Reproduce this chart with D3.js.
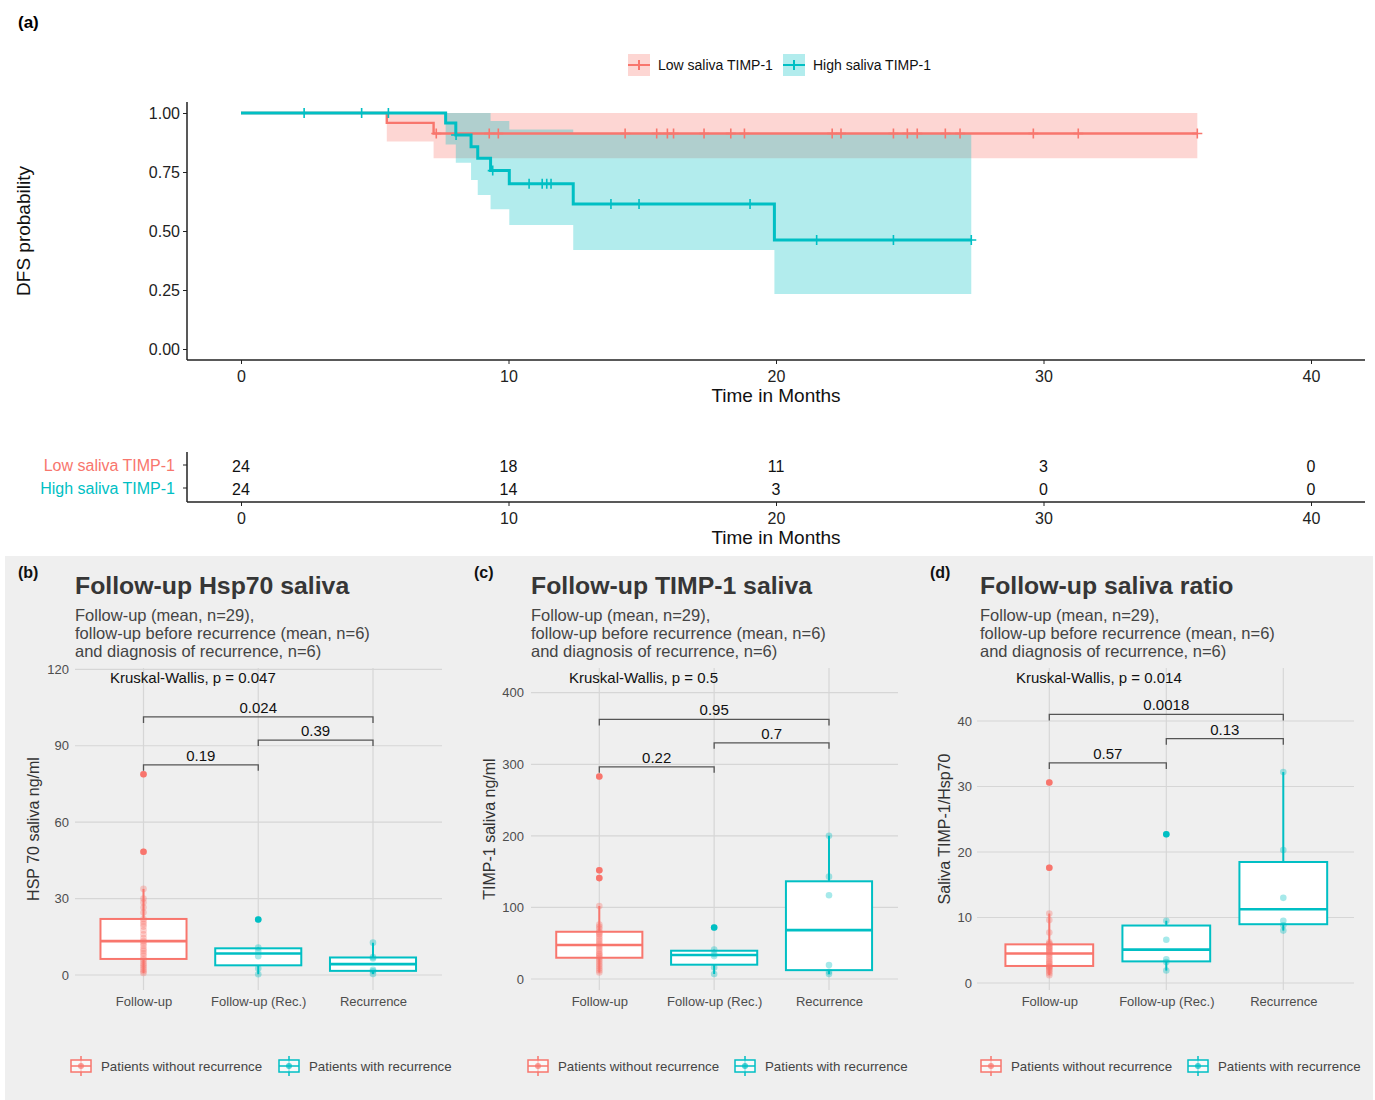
<!DOCTYPE html>
<html><head><meta charset="utf-8">
<script src="https://cdn.jsdelivr.net/npm/d3@7"></script>
<style>body{margin:0;background:#fff} svg{display:block} text{font-family:"Liberation Sans",Arial,sans-serif}</style>
</head><body><svg id="c" width="1375" height="1100"></svg>
<script>
const RED = "#F8766D", TEAL = "#00BFC4";

// ---------- (a) Kaplan-Meier data ----------
const monthTicks = [0, 10, 20, 30, 40];
const probTicks = [0, 0.25, 0.5, 0.75, 1];
const groupNames = ["Low saliva TIMP-1", "High saliva TIMP-1"];
const lowTimes = [0, 5.45, 7.2];
const lowSurv = [1, 0.958, 0.913];
const lowLower = [1, 0.879, 0.808];
const lowUpper = [1, 1, 1];
const lowEnd = 35.75;
const lowCensor = [7.3, 9.28, 9.62, 14.36, 15.54, 15.94, 16.17, 17.31, 18.31, 18.82, 22.1, 22.43, 24.39, 24.91, 25.28, 26.33, 26.88, 29.62, 31.3, 35.75];
const highTimes = [0, 7.65, 8.03, 8.6, 8.85, 9.33, 10.03, 12.42, 19.94];
const highSurv = [1, 0.958, 0.907, 0.857, 0.808, 0.756, 0.70, 0.614, 0.462];
const highLower = [1, 0.867, 0.789, 0.716, 0.653, 0.592, 0.525, 0.419, 0.233];
const highUpper = [1, 1, 1, 1, 1, 0.966, 0.93, 0.915, 0.912];
const highEnd = 27.3;
const highCensor = [2.36, 4.51, 5.51, 8.04, 9.41, 10.77, 11.26, 11.43, 11.59, 13.83, 14.88, 19.03, 21.52, 24.39, 27.3];
const riskLow = [24, 18, 11, 3, 0];
const riskHigh = [24, 14, 3, 0, 0];

// ---------- (b)-(d) boxplot data ----------
const categories = ["Follow-up", "Follow-up (Rec.)", "Recurrence"];
const hspFollow = [0.8, 1.5, 2.2, 3.0, 3.8, 4.5, 5.5, 6.3, 7.5, 8.5, 9.5, 10.3, 11.5, 12.5, 13.3, 14.5, 16.0, 17.5, 19.0, 20.0, 21.0, 22.0, 24.5, 26.5, 28.5, 30.0, 33.8, 48.4, 78.8];
const hspFollowRec = [0.3, 2.6, 7.4, 9.5, 10.8, 21.8];
const hspRec = [0.4, 1.5, 2.0, 6.5, 7.0, 12.7];
const timpFollow = [9, 12, 15, 18, 21, 24, 27, 29.7, 32, 34, 36, 39, 42, 45, 47.5, 50, 53, 56, 59, 62, 64, 66, 70, 73, 76, 102, 141, 152, 283];
const timpFollowRec = [7, 16, 32, 35, 41, 72];
const timpRec = [7, 10, 19.5, 117, 143, 200];
const ratioFollow = [1.2, 1.5, 1.8, 2.0, 2.2, 2.4, 2.5, 2.6, 2.9, 3.1, 3.3, 3.6, 3.9, 4.2, 4.5, 4.7, 4.9, 5.1, 5.3, 5.5, 5.6, 5.9, 6.0, 6.2, 7.7, 9.6, 10.6, 17.6, 30.6];
const ratioFollowRec = [1.9, 3.2, 3.6, 6.6, 9.5, 22.7];
const ratioRec = [8.0, 8.8, 9.5, 13.0, 20.3, 32.2];
const hspTicks = [0, 30, 60, 90, 120];
const timpTicks = [0, 100, 200, 300, 400];
const ratioTicks = [0, 10, 20, 30, 40];
const pairs = [[0, 1], [1, 2], [0, 2]];
const hspP = ["0.19", "0.39", "0.024"];
const timpP = ["0.22", "0.7", "0.95"];
const ratioP = ["0.57", "0.13", "0.0018"];
const kwP = ["0.047", "0.5", "0.014"];
const titles = ["Follow-up Hsp70 saliva", "Follow-up TIMP-1 saliva", "Follow-up saliva ratio"];
const subtitle = ["Follow-up (mean, n=29),", "follow-up before recurrence (mean, n=6)", "and diagnosis of recurrence, n=6)"];
const yTitles = ["HSP 70 saliva ng/ml", "TIMP-1 saliva ng/ml", "Saliva TIMP-1/Hsp70"];
const legendLabels = ["Patients without recurrence", "Patients with recurrence"];

const svg = d3.select("#c");
svg.append("rect").attr("width", 1375).attr("height", 1100).attr("fill", "#fff");

// ================= (a) =================
const x = d3.scaleLinear().domain([0, 40]).range([241, 1311]);
const y = d3.scaleLinear().domain([0, 1]).range([349, 113]);

svg.append("text").text("(a)").attr("x", 18).attr("y", 28).attr("font-size", 17).attr("font-weight", "bold");

function bandData(times, lo, hi, end) {
  const d = times.map((t, i) => ({t, lo: lo[i], hi: hi[i]}));
  d.push({t: end, lo: lo[lo.length - 1], hi: hi[hi.length - 1]});
  return d;
}
const area = d3.area().curve(d3.curveStepAfter).x(d => x(d.t)).y0(d => y(d.lo)).y1(d => y(d.hi));
svg.append("path").attr("d", area(bandData(lowTimes, lowLower, lowUpper, lowEnd))).attr("fill", RED).attr("fill-opacity", 0.3);
svg.append("path").attr("d", area(bandData(highTimes, highLower, highUpper, highEnd))).attr("fill", TEAL).attr("fill-opacity", 0.3);

const line = d3.line().curve(d3.curveStepAfter).x(d => x(d.t)).y(d => y(d.s));
function lineData(times, surv, end) {
  const d = times.map((t, i) => ({t, s: surv[i]}));
  d.push({t: end, s: surv[surv.length - 1]});
  return d;
}
function survAt(times, surv, t) {
  let s = surv[0];
  times.forEach((tt, i) => { if (tt <= t) s = surv[i]; });
  return s;
}
function drawCurve(times, surv, end, censor, color, w) {
  svg.append("path").attr("d", line(lineData(times, surv, end))).attr("fill", "none").attr("stroke", color).attr("stroke-width", w);
  censor.forEach(t => {
    const cx = x(t), cy = y(survAt(times, surv, t));
    svg.append("path").attr("d", `M${cx},${cy - 5}V${cy + 5}M${cx - 5},${cy}H${cx + 5}`).attr("stroke", color).attr("stroke-width", 1.6);
  });
}
drawCurve(lowTimes, lowSurv, lowEnd, lowCensor, RED, 2.4);
drawCurve(highTimes, highSurv, highEnd, highCensor, TEAL, 3);

// axes
const gy = svg.append("g").attr("transform", "translate(187,0)")
  .call(d3.axisLeft(y).tickValues(probTicks).tickFormat(d3.format(".2f")).tickSize(4).tickSizeOuter(0));
gy.select(".domain").remove();
gy.append("line").attr("y1", 102).attr("y2", 360).attr("stroke", "#222").attr("stroke-width", 1.5);
gy.selectAll(".tick text").attr("font-size", 16).attr("fill", "#222").attr("font-family", "Liberation Sans, Arial");
gy.selectAll(".tick line").attr("stroke", "#222");
const gx = svg.append("g").attr("transform", "translate(0,360)")
  .call(d3.axisBottom(x).tickValues(monthTicks).tickSize(4).tickSizeOuter(0));
gx.select(".domain").remove();
gx.append("line").attr("x1", 187).attr("x2", 1365).attr("stroke", "#222").attr("stroke-width", 1.5);
gx.selectAll(".tick text").attr("font-size", 16).attr("fill", "#222").attr("dy", "0.95em").attr("font-family", "Liberation Sans, Arial");
gx.selectAll(".tick line").attr("stroke", "#222");
svg.append("text").text("Time in Months").attr("x", 776).attr("y", 402).attr("text-anchor", "middle").attr("font-size", 19).attr("fill", "#111");
svg.append("text").text("DFS probability").attr("transform", "translate(30,231) rotate(-90)").attr("text-anchor", "middle").attr("font-size", 19).attr("fill", "#111");

// top legend
[[RED, 628, groupNames[0]], [TEAL, 783, groupNames[1]]].forEach(([c, lx, lab]) => {
  svg.append("rect").attr("x", lx).attr("y", 54).attr("width", 22).attr("height", 22).attr("fill", c).attr("fill-opacity", 0.3);
  svg.append("path").attr("d", `M${lx},65H${lx + 22}M${lx + 11},60V70`).attr("stroke", c).attr("stroke-width", 2);
  svg.append("text").text(lab).attr("x", lx + 30).attr("y", 65).attr("dominant-baseline", "central").attr("font-size", 14).attr("fill", "#111");
});

// risk table
const rx = svg.append("g").attr("transform", "translate(0,502)")
  .call(d3.axisBottom(x).tickValues(monthTicks).tickSize(4).tickSizeOuter(0));
rx.select(".domain").remove();
rx.append("line").attr("x1", 187).attr("x2", 1365).attr("stroke", "#222").attr("stroke-width", 1.5);
rx.selectAll(".tick text").attr("font-size", 16).attr("fill", "#222").attr("dy", "0.95em").attr("font-family", "Liberation Sans, Arial");
rx.selectAll(".tick line").attr("stroke", "#222");
svg.append("line").attr("x1", 187).attr("x2", 187).attr("y1", 452).attr("y2", 502).attr("stroke", "#222").attr("stroke-width", 1.5);
svg.append("text").text("Time in Months").attr("x", 776).attr("y", 544).attr("text-anchor", "middle").attr("font-size", 19).attr("fill", "#111");
[[riskLow, 465, RED, groupNames[0]], [riskHigh, 488, TEAL, groupNames[1]]].forEach(([vals, ry, c, lab]) => {
  svg.append("line").attr("x1", 183).attr("x2", 187).attr("y1", ry).attr("y2", ry).attr("stroke", "#222");
  svg.append("text").text(lab).attr("x", 175).attr("y", ry).attr("text-anchor", "end").attr("dominant-baseline", "central").attr("font-size", 16).attr("fill", c);
  vals.forEach((v, i) => svg.append("text").text(v).attr("x", x(monthTicks[i])).attr("y", ry + 1).attr("text-anchor", "middle").attr("dominant-baseline", "central").attr("font-size", 16).attr("fill", "#111"));
});

// ================= (b)-(d) =================
svg.append("rect").attr("x", 5).attr("y", 556).attr("width", 1368).attr("height", 544).attr("fill", "#efefef");

const panels = [
  {tag: "(b)", tagX: 18, left: 75, right: 442, c0: 143.5, c1: 373, dom: [0, 120], rng: [975, 669.3], ticks: hspTicks,
   data: [hspFollow, hspFollowRec, hspRec], p: hspP, br: [82.5, 92.2, 101.3], ylabX: 39, tickX: 68, kwX: 110, legX: 70, legX2: 278},
  {tag: "(c)", tagX: 474, left: 531, right: 898, c0: 599.3, c1: 829, dom: [0, 400], rng: [979, 692.7], ticks: timpTicks,
   data: [timpFollow, timpFollowRec, timpRec], p: timpP, br: [296.5, 330, 362.7], ylabX: 495, tickX: 523, kwX: 569, legX: 527, legX2: 734},
  {tag: "(d)", tagX: 930, left: 977, right: 1354, c0: 1049.3, c1: 1283.3, dom: [0, 40], rng: [983, 721], ticks: ratioTicks,
   data: [ratioFollow, ratioFollowRec, ratioRec], p: ratioP, br: [33.6, 37.3, 41.0], ylabX: 950, tickX: 971, kwX: 1016, legX: 980, legX2: 1187}
];
const TOP = 668, BOT = 990;

panels.forEach((P, pi) => {
  const g = svg.append("g");
  const xs = d3.scalePoint().domain(categories).range([P.c0, P.c1]);
  const ys = d3.scaleLinear().domain(P.dom).range(P.rng);
  const step = xs.step();
  const titleX = P.left + (pi === 2 ? 3 : 0);
  g.append("text").text(P.tag).attr("x", P.tagX).attr("y", 578).attr("font-size", 16).attr("font-weight", "bold").attr("fill", "#111");
  g.append("text").text(titles[pi]).attr("x", titleX).attr("y", 594).attr("font-size", 24.8).attr("font-weight", "bold").attr("fill", "#363636");
  subtitle.forEach((s, i) => g.append("text").text(s).attr("x", titleX).attr("y", 621 + i * 18).attr("font-size", 16.5).attr("fill", "#444"));

  // grid
  P.ticks.forEach(t => g.append("line").attr("x1", P.left).attr("x2", P.right).attr("y1", ys(t)).attr("y2", ys(t)).attr("stroke", "#d6d6d6").attr("stroke-width", 1.2));
  categories.forEach(c => g.append("line").attr("x1", xs(c)).attr("x2", xs(c)).attr("y1", TOP).attr("y2", BOT).attr("stroke", "#d6d6d6").attr("stroke-width", 1.2));

  // axes labels
  const ya = g.append("g").attr("transform", `translate(${P.tickX + 4},0)`).call(d3.axisLeft(ys).tickValues(P.ticks).tickSize(0));
  ya.select(".domain").remove();
  ya.selectAll(".tick text").attr("font-size", 13).attr("fill", "#4d4d4d").attr("font-family", "Liberation Sans, Arial");
  const xa = g.append("g").attr("transform", `translate(0,${BOT + 4})`).call(d3.axisBottom(xs).tickSize(0));
  xa.select(".domain").remove();
  xa.selectAll(".tick text").attr("font-size", 13).attr("fill", "#4d4d4d").attr("font-family", "Liberation Sans, Arial");
  g.append("text").text(yTitles[pi]).attr("transform", `translate(${P.ylabX},${(TOP + BOT) / 2}) rotate(-90)`).attr("text-anchor", "middle").attr("font-size", 16).attr("fill", "#333");

  // boxes
  P.data.forEach((vals, ci) => {
    const col = ci === 0 ? RED : TEAL;
    const cx = xs(categories[ci]);
    const s = vals.slice().sort(d3.ascending);
    const q1 = d3.quantile(s, 0.25), med = d3.quantile(s, 0.5), q3 = d3.quantile(s, 0.75);
    const iqr = q3 - q1;
    const lo = d3.min(s.filter(v => v >= q1 - 1.5 * iqr)), hi = d3.max(s.filter(v => v <= q3 + 1.5 * iqr));
    const out = s.filter(v => v < q1 - 1.5 * iqr || v > q3 + 1.5 * iqr);
    const bw = step * 0.75;
    g.append("line").attr("x1", cx).attr("x2", cx).attr("y1", ys(q3)).attr("y2", ys(hi)).attr("stroke", col).attr("stroke-width", 2);
    g.append("line").attr("x1", cx).attr("x2", cx).attr("y1", ys(q1)).attr("y2", ys(lo)).attr("stroke", col).attr("stroke-width", 2);
    g.append("rect").attr("x", cx - bw / 2).attr("y", ys(q3)).attr("width", bw).attr("height", ys(q1) - ys(q3))
      .attr("fill", "#fff").attr("stroke", col).attr("stroke-width", 2);
    g.append("line").attr("x1", cx - bw / 2).attr("x2", cx + bw / 2).attr("y1", ys(med)).attr("y2", ys(med)).attr("stroke", col).attr("stroke-width", 2.6);
    out.forEach(v => g.append("circle").attr("cx", cx).attr("cy", ys(v)).attr("r", 3.3).attr("fill", col));
    s.forEach(v => g.append("circle").attr("cx", cx).attr("cy", ys(v)).attr("r", 3.3).attr("fill", col).attr("fill-opacity", 0.35));
  });

  // brackets
  pairs.forEach((pr, i) => {
    const x1 = xs(categories[pr[0]]), x2 = xs(categories[pr[1]]), by = ys(P.br[i]);
    g.append("path").attr("d", `M${x1},${by + 6}V${by}H${x2}V${by + 6}`).attr("fill", "none").attr("stroke", "#555").attr("stroke-width", 1.3);
    g.append("text").text(P.p[i]).attr("x", (x1 + x2) / 2).attr("y", by - 4).attr("text-anchor", "middle").attr("font-size", 15).attr("fill", "#111");
  });
  g.append("text").text(`Kruskal-Wallis, p = ${kwP[pi]}`).attr("x", P.kwX).attr("y", 683).attr("font-size", 15).attr("fill", "#111");

  // legend
  [[RED, P.legX, legendLabels[0]], [TEAL, P.legX2, legendLabels[1]]].forEach(([c, lx, lab]) => {
    const cx = lx + 11, cy = 1066;
    g.append("line").attr("x1", cx).attr("x2", cx).attr("y1", cy - 10).attr("y2", cy + 10).attr("stroke", c).attr("stroke-width", 1.5);
    g.append("rect").attr("x", lx + 1).attr("y", cy - 6).attr("width", 20).attr("height", 12).attr("fill", "#fff").attr("fill-opacity", 0.6).attr("stroke", c).attr("stroke-width", 1.5);
    g.append("line").attr("x1", lx + 1).attr("x2", lx + 21).attr("y1", cy).attr("y2", cy).attr("stroke", c).attr("stroke-width", 1.5);
    g.append("circle").attr("cx", cx).attr("cy", cy).attr("r", 3).attr("fill", c).attr("fill-opacity", 0.7);
    g.append("text").text(lab).attr("x", lx + 31).attr("y", cy).attr("dominant-baseline", "central").attr("font-size", 13.3).attr("fill", "#444");
  });
});
</script></body></html>
